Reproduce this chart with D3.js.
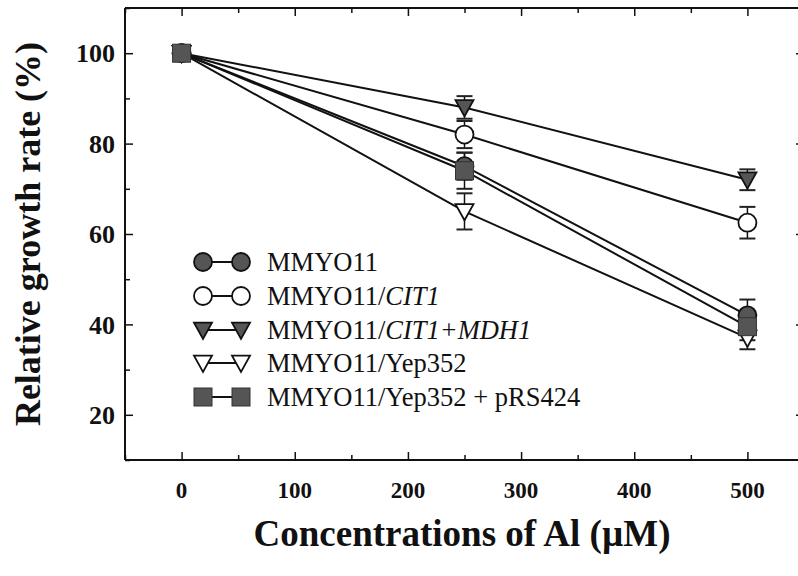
<!DOCTYPE html>
<html>
<head>
<meta charset="utf-8">
<script src="https://cdn.jsdelivr.net/npm/d3@7"></script>
<style>
  body { margin: 0; background: #fff; }
  svg { display: block; }
  text { font-family: "Liberation Serif", "Times New Roman", serif; fill: #111; }
</style>
</head>
<body>
<svg id="chart" width="798" height="576"></svg>
<script>
// ---- data ----
const concentrations = [0, 250, 500];
const seriesNames = ["MMYO11", "MMYO11/CIT1", "MMYO11/CIT1+MDH1", "MMYO11/Yep352", "MMYO11/Yep352 + pRS424"];
const mmyo11 = [100, 75, 42];
const mmyo11Err = [0, 3, 3.5];
const cit1 = [100, 82, 62.5];
const cit1Err = [0, 3, 3.5];
const cit1Mdh1 = [100, 88, 72];
const cit1Mdh1Err = [0, 2.5, 2.3];
const yep352 = [100, 65, 37];
const yep352Err = [0, 4, 2.5];
const yep352Prs424 = [100, 74, 39.5];
const yep352Prs424Err = [0, 4, 3];
const xTickValues = [0, 100, 200, 300, 400, 500];
const yTickValues = [20, 40, 60, 80, 100];

const seriesValues = [mmyo11, cit1, cit1Mdh1, yep352, yep352Prs424];
const seriesErrors = [mmyo11Err, cit1Err, cit1Mdh1Err, yep352Err, yep352Prs424Err];
const markerTypes = ["circle", "circle", "triDown", "triDown", "square"];
const markerFilled = [true, false, true, false, true];

(function () {
const svg = d3.select("#chart");
const pL = 125, pR = 804, pT = 8, pB = 460;
const x = d3.scaleLinear().domain([-50, 550]).range([pL, pR]);
const y = d3.scaleLinear().domain([10, 110]).range([pB, pT]);
const gray = "#555";

// frame
svg.append("line").attr("x1", pL).attr("x2", pL).attr("y1", pT).attr("y2", pB).attr("stroke", "#111").attr("stroke-width", 2);
svg.append("line").attr("x1", pL).attr("x2", pR).attr("y1", pT).attr("y2", pT).attr("stroke", "#111").attr("stroke-width", 2);
svg.append("line").attr("x1", pL).attr("x2", pR).attr("y1", pB).attr("y2", pB).attr("stroke", "#111").attr("stroke-width", 2);
svg.append("line").attr("x1", pR).attr("x2", pR).attr("y1", pT).attr("y2", pB).attr("stroke", "#111").attr("stroke-width", 2);

function styleAxis(g) {
  g.select(".domain").remove();
  g.selectAll(".tick line").attr("stroke", "#111").attr("stroke-width", 1.5);
}
const xMinor = d3.range(-50, 551, 50).filter(v => v % 100 !== 0);
const yMinor = d3.range(10, 111, 10).filter(v => v % 20 !== 0);

svg.append("g").attr("transform", `translate(0,${pB})`)
  .call(d3.axisTop(x).tickValues(xTickValues).tickSize(8).tickFormat("")).call(styleAxis);
svg.append("g").attr("transform", `translate(0,${pB})`)
  .call(d3.axisTop(x).tickValues(xMinor).tickSize(5).tickFormat("")).call(styleAxis);
svg.append("g").attr("transform", `translate(0,${pT})`)
  .call(d3.axisBottom(x).tickValues(xTickValues).tickSize(8).tickFormat("")).call(styleAxis);
svg.append("g").attr("transform", `translate(0,${pT})`)
  .call(d3.axisBottom(x).tickValues(xMinor).tickSize(5).tickFormat("")).call(styleAxis);
svg.append("g").attr("transform", `translate(${pL},0)`)
  .call(d3.axisRight(y).tickValues(yTickValues).tickSize(8).tickFormat("")).call(styleAxis);
svg.append("g").attr("transform", `translate(${pL},0)`)
  .call(d3.axisRight(y).tickValues(yMinor).tickSize(5).tickFormat("")).call(styleAxis);
svg.append("g").attr("transform", `translate(${pR},0)`)
  .call(d3.axisLeft(y).tickValues(yTickValues).tickSize(8).tickFormat("")).call(styleAxis);

// tick labels
svg.append("g").selectAll("text").data(xTickValues).join("text")
  .attr("x", d => x(d)).attr("y", 498).attr("text-anchor", "middle")
  .attr("font-size", 23).attr("font-weight", "bold").text(d => d);
svg.append("g").selectAll("text").data(yTickValues).join("text")
  .attr("x", 115).attr("y", d => y(d)).attr("dy", "0.35em").attr("text-anchor", "end")
  .attr("font-size", 26).attr("font-weight", "bold").text(d => d);

// axis titles
svg.append("text").attr("x", 462).attr("y", 546).attr("text-anchor", "middle")
  .attr("font-size", 37).attr("font-weight", "bold").text("Concentrations of Al (\u00b5M)");
svg.append("text").attr("transform", "translate(40,234) rotate(-90)").attr("text-anchor", "middle")
  .attr("font-size", 36).attr("font-weight", "bold").text("Relative growth rate (%)");

function drawMarker(g, type, filled, cx, cy, s) {
  const fill = filled ? gray : "#fff";
  if (type === "circle") {
    g.append("circle").attr("cx", cx).attr("cy", cy).attr("r", s * 0.5)
      .attr("fill", fill).attr("stroke", "#111").attr("stroke-width", 1.8);
  } else if (type === "square") {
    g.append("rect").attr("x", cx - s * 0.5).attr("y", cy - s * 0.5).attr("width", s).attr("height", s)
      .attr("fill", fill).attr("stroke", "#333").attr("stroke-width", 1);
  } else {
    const h = s * 0.9;
    g.append("path").attr("d", `M${cx - s * 0.5},${cy - h * 0.45}L${cx + s * 0.5},${cy - h * 0.45}L${cx},${cy + h * 0.55}Z`)
      .attr("fill", fill).attr("stroke", "#111").attr("stroke-width", 1.8);
  }
}

const line = d3.line().x((d, i) => x(concentrations[i])).y(d => y(d));
const plot = svg.append("g");
seriesValues.forEach(vals => {
  plot.append("path").datum(vals).attr("d", line).attr("fill", "none")
    .attr("stroke", "#111").attr("stroke-width", 2);
});
seriesValues.forEach((vals, si) => {
  vals.forEach((v, i) => {
    const e = seriesErrors[si][i];
    if (!e) return;
    const cx = x(concentrations[i]);
    plot.append("line").attr("x1", cx).attr("x2", cx).attr("y1", y(v + e)).attr("y2", y(v - e))
      .attr("stroke", "#111").attr("stroke-width", 1.5);
    [v + e, v - e].forEach(t => {
      plot.append("line").attr("x1", cx - 8).attr("x2", cx + 8).attr("y1", y(t)).attr("y2", y(t))
        .attr("stroke", "#222").attr("stroke-width", 2);
    });
  });
});
seriesValues.forEach((vals, si) => {
  vals.forEach((v, i) => {
    drawMarker(plot, markerTypes[si], markerFilled[si], x(concentrations[i]), y(v), 18);
  });
});

const legendRows = [262, 296, 330, 363, 397];
const legend = svg.append("g");
seriesNames.forEach((name, i) => {
  const ly = legendRows[i];
  legend.append("line").attr("x1", 203).attr("x2", 241).attr("y1", ly).attr("y2", ly)
    .attr("stroke", "#111").attr("stroke-width", 2);
  drawMarker(legend, markerTypes[i], markerFilled[i], 203, ly, 18);
  drawMarker(legend, markerTypes[i], markerFilled[i], 241, ly, 18);
  const t = legend.append("text").attr("x", 267).attr("y", ly).attr("dy", "0.35em").attr("font-size", 26.5);
  if (name.indexOf("/CIT1") >= 0) {
    t.append("tspan").text("MMYO11/");
    t.append("tspan").attr("font-style", "italic").text(name.replace("MMYO11/", ""));
  } else {
    t.text(name);
  }
});
})();
</script>
</body>
</html>
